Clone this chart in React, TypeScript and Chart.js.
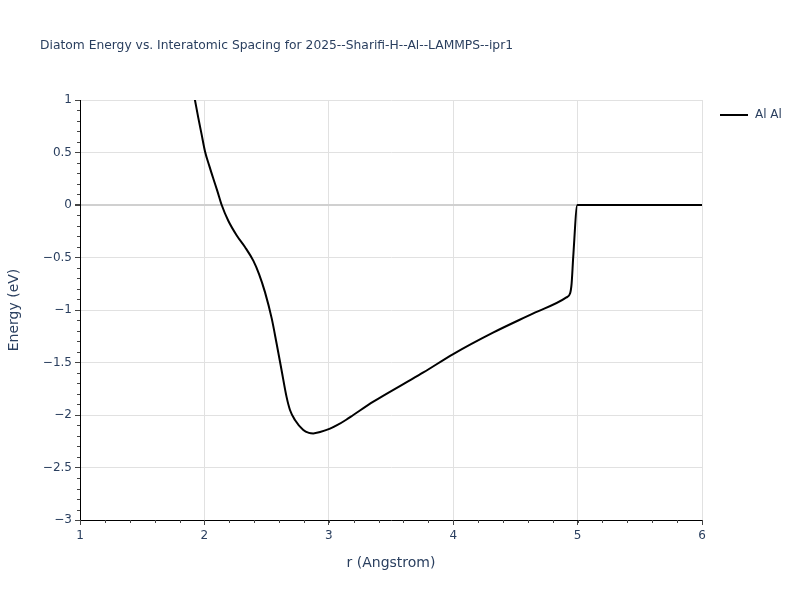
import React, { useEffect, useRef } from "react";
import { Chart, registerables } from "chart.js";

Chart.register(...registerables);

const TITLE = "Diatom Energy vs. Interatomic Spacing for 2025--Sharifi-H--Al--LAMMPS--ipr1";
const SERIES_NAME = "Al Al";
const X_TITLE = "r (Angstrom)";
const Y_TITLE = "Energy (eV)";

const rValues = [
  1.9, 1.924, 1.951, 1.978, 2.005, 2.04, 2.072, 2.105, 2.139, 2.192, 2.26, 2.326,
  2.393, 2.44, 2.487, 2.541, 2.58, 2.62, 2.66, 2.688, 2.728, 2.795, 2.84, 2.875,
  2.93, 3.01, 3.07, 3.14, 3.197, 3.358, 3.599, 3.76, 4.0, 4.32, 4.644, 4.91, 4.94,
  4.952, 4.965, 4.998, 5.5, 6.0,
];
const energyValues = [
  1.15, 1.0, 0.83, 0.67, 0.51, 0.37, 0.25, 0.13, 0.0, -0.15, -0.29, -0.4,
  -0.53, -0.66, -0.83, -1.08, -1.317, -1.571, -1.825, -1.952, -2.048, -2.143, -2.17, -2.175,
  -2.162, -2.13, -2.095, -2.045, -2.0, -1.873, -1.705, -1.595, -1.42, -1.216, -1.032, -0.88, -0.84,
  -0.746, -0.492, 0.0, 0.0, 0.0,
];

const X_MIN = 1, X_MAX = 6, X_STEP = 1, X_MINOR = 0.2;
const Y_MIN = -3, Y_MAX = 1, Y_STEP = 0.5, Y_MINOR = 0.1;

const FONT = "'DejaVu Sans', Verdana, sans-serif";
const TEXT_COLOR = "#2a3f5f";

const fmt = (v: number) => {
  const r = Math.round(v * 100) / 100;
  return r < 0 ? "\u2212" + String(Math.abs(r)) : String(r);
};

const overlayPlugin = {
  id: "overlay",
  afterDraw(chart: any) {
    const ctx = chart.ctx;
    const xs = chart.scales.x;
    const ys = chart.scales.y;
    const area = chart.chartArea;
    ctx.save();
    ctx.strokeStyle = "#444";
    ctx.lineWidth = 1;
    for (let v = X_MIN; v <= X_MAX + 1e-9; v += X_MINOR) {
      const px = Math.round(xs.getPixelForValue(v)) + 0.5;
      ctx.beginPath();
      ctx.moveTo(px, area.bottom);
      ctx.lineTo(px, area.bottom + 3);
      ctx.stroke();
    }
    for (let v = Y_MIN; v <= Y_MAX + 1e-9; v += Y_MINOR) {
      const py = Math.round(ys.getPixelForValue(v)) + 0.5;
      ctx.beginPath();
      ctx.moveTo(area.left - 3, py);
      ctx.lineTo(area.left, py);
      ctx.stroke();
    }
    ctx.fillStyle = TEXT_COLOR;
    ctx.font = `12.3px ${FONT}`;
    ctx.textAlign = "left";
    ctx.textBaseline = "middle";
    ctx.fillText(TITLE, 40, 46);
    ctx.strokeStyle = "#000";
    ctx.lineWidth = 2;
    ctx.beginPath();
    ctx.moveTo(720, 115);
    ctx.lineTo(748, 115);
    ctx.stroke();
    ctx.font = `12px ${FONT}`;
    ctx.fillText(SERIES_NAME, 755, 115);
    ctx.restore();
  },
};

export default function App() {
  const ref = useRef<HTMLCanvasElement | null>(null);
  useEffect(() => {
    document.body.style.margin = "0";
    const data = rValues.map((r, i) => ({ x: r, y: energyValues[i] }));
    const chart = new Chart(ref.current as HTMLCanvasElement, {
      type: "scatter",
      data: {
        datasets: [
          {
            label: SERIES_NAME,
            data,
            showLine: true,
            borderColor: "#000",
            backgroundColor: "#000",
            borderWidth: 2,
            pointRadius: 0,
            tension: 0,
            cubicInterpolationMode: "monotone",
          } as any,
        ],
      },
      options: {
        animation: false,
        responsive: false,
        layout: { padding: { left: 0, top: 100, right: 98, bottom: 0 } },
        plugins: {
          legend: { display: false },
          title: { display: false },
          tooltip: { enabled: false },
        },
        scales: {
          x: {
            type: "linear",
            min: X_MIN,
            max: X_MAX,
            afterFit: (s: any) => { s.height = 80; },
            ticks: {
              stepSize: X_STEP,
              color: TEXT_COLOR,
              font: { family: FONT, size: 12 },
              padding: 4,
              callback: (v: any) => fmt(Number(v)),
            },
            grid: {
              color: "#e1e1e1",
              tickColor: "#444",
              tickLength: 5,
              drawTicks: true,
            },
            border: { display: true, color: "#000", width: 1 },
            title: {
              display: true,
              text: X_TITLE,
              color: TEXT_COLOR,
              font: { family: FONT, size: 14 },
              padding: { top: 0, bottom: 28 },
            },
          },
          y: {
            type: "linear",
            min: Y_MIN,
            max: Y_MAX,
            afterFit: (s: any) => { s.width = 80; },
            ticks: {
              stepSize: Y_STEP,
              color: TEXT_COLOR,
              font: { family: FONT, size: 12 },
              padding: 3,
              callback: (v: any) => fmt(Number(v)),
            },
            grid: {
              color: (c: any) => (c.tick && c.tick.value === 0 ? "#d0d0d0" : "#e1e1e1"),
              lineWidth: (c: any) => (c.tick && c.tick.value === 0 ? 2 : 1),
              tickColor: "#444",
              tickLength: 5,
              drawTicks: true,
            },
            border: { display: true, color: "#000", width: 1 },
            title: {
              display: true,
              text: Y_TITLE,
              color: TEXT_COLOR,
              font: { family: FONT, size: 14 },
              padding: { top: 6, bottom: 0 },
            },
          },
        },
      },
      plugins: [overlayPlugin],
    });
    return () => chart.destroy();
  }, []);
  return (
    <div style={{ position: "absolute", left: 0, top: 0, width: 800, height: 600, background: "#fff" }}>
      <canvas ref={ref} width={800} height={600} style={{ width: 800, height: 600 }} />
    </div>
  );
}
